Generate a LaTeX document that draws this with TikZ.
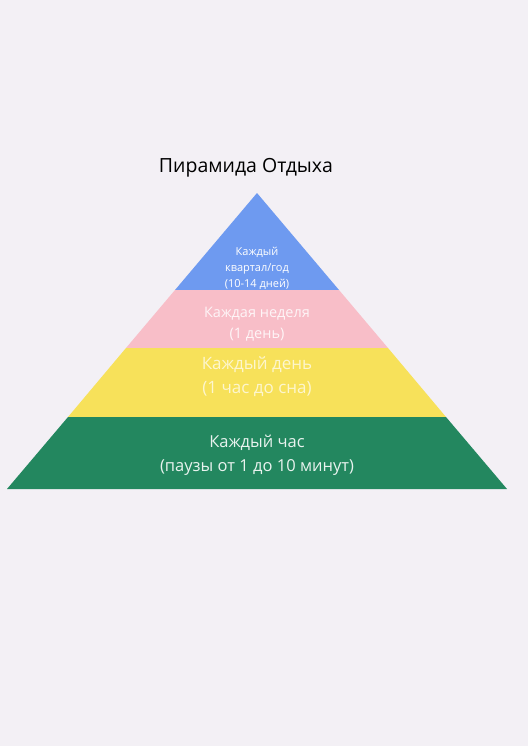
\documentclass[tikz,border=0pt]{standalone}
\usepackage{xcolor}
\usepackage{fontspec}
\setmainfont{Open Sans}
\usepackage{tikz}
\usetikzlibrary{positioning}

\definecolor{bgpaper}{HTML}{F3F0F5}
\definecolor{topblue}{HTML}{6E9AF0}
\definecolor{weekpink}{HTML}{F8BEC8}
\definecolor{dayyellow}{HTML}{F7E15A}
\definecolor{hourgreen}{HTML}{23875F}

\tikzset{
	layer/.style={fill=#1, draw=none},
	lbl/.style={align=center, inner sep=0pt},
}

\begin{document}
\begin{tikzpicture}[x=1pt, y=-1pt]
	\fill[bgpaper] (0,0) rectangle (528,746);
	\useasboundingbox (0,0) rectangle (528,746);
	
	\coordinate (apex) at (257,193);
	\coordinate (b1l) at (175,290); \coordinate (b1r) at (339,290);
	\coordinate (b2l) at (126,348); \coordinate (b2r) at (388,348);
	\coordinate (b3l) at (68,417);  \coordinate (b3r) at (446,417);
	\coordinate (b4l) at (7,489);   \coordinate (b4r) at (507,489);
	
	\fill[layer=topblue] (apex) -- (b1r) -- (b1l) -- cycle;
	\fill[layer=weekpink] (b1l) -- (b1r) -- (b2r) -- (b2l) -- cycle;
	\fill[layer=dayyellow] (b2l) -- (b2r) -- (b3r) -- (b3l) -- cycle;
	\fill[layer=hourgreen] (b3l) -- (b3r) -- (b4r) -- (b4l) -- cycle;
	
	\node[lbl, font=\fontsize{19.5}{24}\selectfont] (title) [above = 16pt of apex, xshift=-11pt] {Пирамида Отдыха};
	
	\node[lbl, text=white, font=\fontsize{11}{16}\selectfont] (quarter) at (257,268) {Каждый\\квартал/год\\(10-14 дней)};
	\node[lbl, text=white!85!weekpink, font=\fontsize{14.5}{21}\selectfont] (week) at (257,324) {Каждая неделя\\(1 день)};
	\node[lbl, text=white!70!dayyellow, font=\fontsize{17}{24}\selectfont] (day) at (257,377) {Каждый день\\(1 час до сна)};
	\node[lbl, text=white!90!hourgreen, font=\fontsize{16.5}{24}\selectfont] (hour) at (257,455) {Каждый час\\(паузы от 1 до 10 минут)};
\end{tikzpicture}
\end{document}
